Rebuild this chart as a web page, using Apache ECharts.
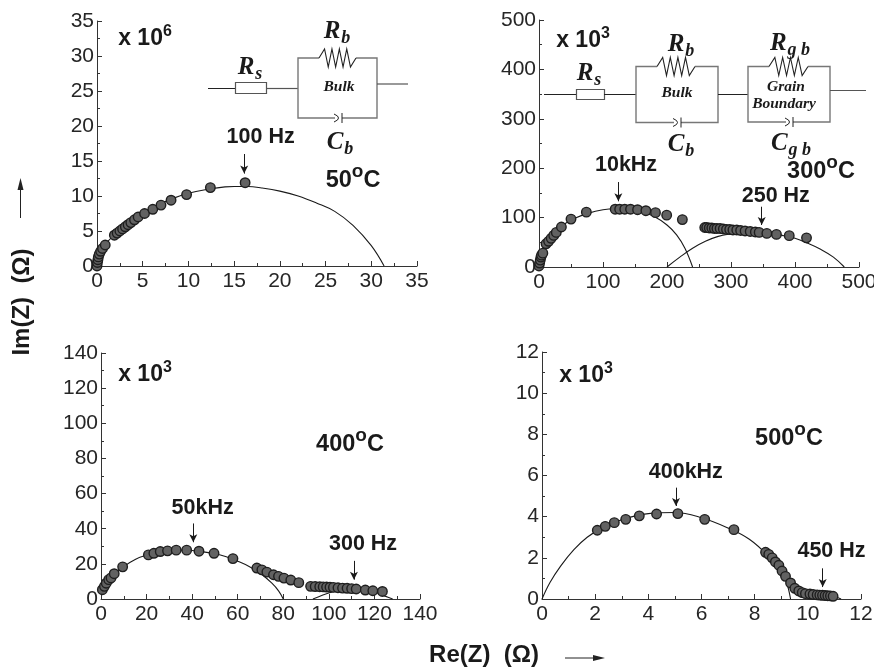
<!DOCTYPE html>
<html><head><meta charset="utf-8">
<style>html,body{margin:0;padding:0;background:#fff}#c{width:874px;height:672px}</style>
<script src="https://cdn.jsdelivr.net/npm/echarts@6/dist/echarts.min.js"></script>
</head><body><div id="c"></div>
<script>
// ---- data: [Re(Z), Im(Z)] ----
const points50 = [[0,0],[0.05,.5],[0.1,.9],[0.15,1.3],[0.25,1.7],[0.4,2.1],[0.6,2.5],[0.9,3],[1.9,4.4],[2.2,4.7],[2.5,5],[2.8,5.3],[3.1,5.6],[3.4,5.9],[3.7,6.2],[4.1,6.6],[4.5,7],[5.2,7.5],[6.1,8.1],[7,8.7],[8.1,9.4],[9.8,10.2],[12.4,11.2],[16.2,11.9]];
const fit50 = [[0,0],[0.3,1.5],[1,3.2],[2,4.6],[3,5.8],[4,6.8],[5,7.6],[6,8.3],[7,8.9],[8,9.5],[10,10.4],[12.3,11],[14,11.3],[15,11.35],[16.5,11.35],[18,11.15],[20,10.7],[22,10],[24,9],[26,7.8],[28,5.8],[30,2.9],[31.4,0]];
const points300a = [[0,2],[1,8],[2,14],[3,20],[4,24],[6,28],[11,47],[15,52],[19,58],[23,64],[27,70],[35,81],[50,97],[74,111],[119,117],[126,117],[134,117],[143,117],[154,116],[167,114],[182,110],[199.5,105],[224,96]];
const points300b = [[259,80],[262,80],[266,79],[270,79],[274,78],[278,78],[283,78],[288,77],[293,76],[298,76],[303,75],[309,75],[315,74],[322,73],[330,72],[338,71],[344,70],[356,68],[371,66],[391,63.5],[418,59]];
const fit300a = [[0,0],[5,28],[12,48],[25,70],[40,87],[55,98],[75,108],[100,116],[120,118],[140,117],[160,112],[180,102],[200,85],[215,65],[228,38],[240,0]];
const fit300b = [[200,0],[220,20],[240,38],[260,52],[280,62],[300,67],[320,70],[340,70],[360,68],[380,64],[400,58],[420,48],[440,36],[460,20],[477,0]];
const points400a = [[0.6,5.3],[1.5,7.2],[2.3,9],[3.4,11],[4.4,12],[5.8,14.4],[9.5,18.3],[20.8,25.1],[23.2,26],[26,27],[29.2,27.4],[33,27.8],[37.6,27.8],[43,27.2],[49.6,26],[57.9,23],[68.4,17.6],[70.6,16.6],[72.8,15.3],[75.7,13.8],[77.9,12.9],[80.3,11.9],[83.3,10.8],[86.8,9.3]];
const points400b = [[92,7.2],[94,7.1],[96,7],[97.5,6.9],[99,6.8],[100.5,6.7],[102,6.6],[104,6.4],[106,6.2],[108,6.1],[110,5.9],[112,5.7],[116,5.1],[119.3,4.7],[123.5,4.3]];
const fit400a = [[0.5,4],[1,5],[3,9.5],[6,14],[10,18.5],[15,22.5],[20,25],[25,26.5],[30,27.4],[35,27.8],[40,27.6],[45,26.8],[50,25.8],[55,24],[60,21.5],[65,18.5],[70,14.5],[75,9],[78,4.5],[80,0]];
const fit400b = [[93,0],[101,3.8],[105,5],[110,5.5],[115,5.2],[120,4],[125,1.5],[128,0]];
const points500 = [[2.08,3.34],[2.38,3.53],[2.72,3.71],[3.15,3.87],[3.66,4.04],[4.31,4.13],[5.11,4.15],[6.12,3.87],[7.22,3.37],[8.41,2.27],[8.53,2.17],[8.66,2],[8.78,1.8],[8.91,1.64],[9.03,1.36],[9.16,1.1],[9.35,.78],[9.51,.52],[9.66,.39],[9.79,.31],[9.91,.26],[10.08,.24],[10.2,.22],[10.35,.2],[10.45,.19],[10.55,.18],[10.65,.17],[10.75,.16],[10.85,.15],[10.95,.13]];
const fit500a = [[0,0],[0.3,.8],[0.7,1.6],[1.2,2.4],[1.7,3],[2.2,3.4],[3,3.85],[4,4.15],[5,4.2],[6,3.95],[7,3.45],[7.8,2.9],[8.5,2.1],[9,1.3],[9.2,.8],[9.35,0]];
const fit500b = [[9.4,.6],[10,.25],[10.5,.2],[11,.12],[11.25,0]];

const ticks = {p50:[35,5], p300:[500,100], p400:[140,20], p500:[12,2]};
// frequency notes: [text, label x, label y, arrow x, arrow top y, arrow tip y]
const notes50 = [['100 Hz',17.9,18.4,16.1,16,13.2]];
const notes300 = [['10kHz',136,206,124,172,133],['250 Hz',370,144,348,122,85]];
const notes400 = [['50kHz',44.6,52,40.5,43,32.3],['300 Hz',115,31.4,111,21.7,11]];
const notes500 = [['400kHz',5.41,6.17,5.04,5.41,4.52],['450 Hz',10.89,2.33,10.56,1.49,.58]];

// ---- styling and layout ----
const INK='#262626', SANS='"Liberation Sans",Arial,sans-serif', SERIF='"Liberation Serif",serif';
const panels=[
 {box:[97,21,320,245],  t:ticks.p50,  pts:[points50],  fit:[fit50],  notes:notes50},
 {box:[539,20,320,247], t:ticks.p300, pts:[points300a,points300b], fit:[fit300a,fit300b], notes:notes300},
 {box:[101,353,319,246],t:ticks.p400, pts:[points400a,points400b], fit:[fit400a,fit400b], notes:notes400},
 {box:[542,352,319,247],t:ticks.p500, pts:[points500], fit:[fit500a,fit500b], notes:notes500}
];
const grid=[],xAxis=[],yAxis=[],series=[];
panels.forEach((p,i)=>{
  grid.push({left:p.box[0],top:p.box[1],width:p.box[2],height:p.box[3],outerBoundsMode:'none',containLabel:false});
  const ax=(g,dir)=>({type:'value',gridIndex:g,min:0,max:p.t[0],interval:p.t[1],splitLine:{show:false},
    axisLine:{show:true,onZero:false,lineStyle:{color:'#333',width:1}},
    axisTick:{show:true,inside:true,length:5,lineStyle:{color:'#333'}},
    minorTick:{show:true,splitNumber:2,length:3,lineStyle:{color:'#333'}},
    axisLabel:{color:INK,fontFamily:SANS,fontSize:21,margin:dir==='x'?5:3,showMinLabel:true,showMaxLabel:true,hideOverlap:false}});
  xAxis.push(ax(i,'x')); yAxis.push(ax(i,'y'));
  p.fit.forEach(d=>series.push({type:'line',xAxisIndex:i,yAxisIndex:i,data:d,smooth:0.4,showSymbol:false,symbol:'none',clip:false,z:2,
    lineStyle:{color:'#1a1a1a',width:1.1}}));
  p.pts.forEach(d=>series.push({type:'scatter',xAxisIndex:i,yAxisIndex:i,data:d,symbol:'circle',symbolSize:9.5,clip:false,z:3,
    itemStyle:{color:'#626262',borderColor:'#1e1e1e',borderWidth:1.4,opacity:1}}));
  series.push({type:'scatter',xAxisIndex:i,yAxisIndex:i,data:[],silent:true,z:4,
    markPoint:{symbol:'circle',symbolSize:0,silent:true,animation:false,
      data:p.notes.map(n=>({coord:[n[1],n[2]],label:{show:true,position:'inside',formatter:n[0],color:'#1a1a1a',fontFamily:SANS,fontWeight:'bold',fontSize:21.5}}))},
    markLine:{silent:true,animation:false,symbol:['none','arrow'],symbolSize:[6,8],label:{show:false},
      lineStyle:{color:'#1a1a1a',width:1,type:'solid'},
      data:p.notes.map(n=>[{coord:[n[3],n[4]]},{coord:[n[3],n[5]]}])}});
});

// ---- annotations and circuit sketches ----
const g=[];
const line=(pts,color,w)=>g.push({type:'polyline',silent:true,shape:{points:pts},style:{stroke:color||'#222',lineWidth:w||1,fill:null}});
const txt=(x,y,rich,ext)=>g.push({type:'text',silent:true,x,y,style:Object.assign({text:rich,textAlign:'center',textVerticalAlign:'middle',fill:'#1a1a1a',font:'bold 21px '+SANS},ext||{})});
const supStyle=(size,raise)=>({fontFamily:SANS,fontWeight:'bold',fontSize:size,padding:[0,0,raise,0],fill:'#1a1a1a'});
const big=(size)=>({fontFamily:SANS,fontWeight:'bold',fontSize:size,fill:'#1a1a1a'});
const powRich={rich:{b:big(23),s:supStyle(16,15)}};
const tempRich={rich:{b:big(23.5),s:supStyle(19,19)}};
txt(145,39,'{b|x 10}{s|6}',powRich); txt(583,41,'{b|x 10}{s|3}',powRich);
txt(145,375,'{b|x 10}{s|3}',powRich); txt(586,376,'{b|x 10}{s|3}',powRich);
txt(353,181,'{b|50}{s|o}{b|C}',tempRich); txt(821,172,'{b|300}{s|o}{b|C}',tempRich);
txt(350,445,'{b|400}{s|o}{b|C}',tempRich); txt(789,439,'{b|500}{s|o}{b|C}',tempRich);
const symR=(x,y,main,sub)=>txt(x,y,'{m|'+main+'}{u|'+sub+'}',{rich:{
  m:{fontFamily:SERIF,fontStyle:'italic',fontWeight:'bold',fontSize:25,fill:'#1a1a1a'},
  u:{fontFamily:SERIF,fontStyle:'italic',fontWeight:'bold',fontSize:18,padding:[12,0,0,1],fill:'#1a1a1a'}}});
const cap=(x,y)=>{
  line([[x-5,y-4],[x-1.5,y-2],[x-0.5,y],[x-1.5,y+2],[x-5,y+4]],'#222');
  line([[x+3,y-5],[x+3,y+5]],'#222');
};
const zig=(x0,x1,y)=>{
  const n=4,st=(x1-x0)/(n*2+2),pts=[[x0,y]];
  for(let k=0;k<n*2;k++) pts.push([x0+st*(k+1.5),y+(k%2?9:-9)]);
  pts.push([x1,y]); line(pts,'#222',1.1);
};
const rect=(x,y,w,h,c,lw)=>g.push({type:'rect',silent:true,shape:{x,y,width:w,height:h},style:{stroke:c,lineWidth:lw||1,fill:'#fff'}});
const rc=(L,R,T,B,zx0,zx1,cx)=>{
  line([[zx0,T],[L,T],[L,B],[cx-4,B]],'#777',1.4);
  line([[cx+3,B],[R,B],[R,T],[zx1,T]],'#777',1.4);
  zig(zx0,zx1,T); cap(cx,B);
};
const ital=(x,y,s)=>txt(x,y,s,{font:'italic bold 15.5px '+SERIF});
// 50 C circuit
line([[208,88.5],[235,88.5]],'#222'); rect(235.5,82.5,31,11,'#555',1.2); line([[266,88.5],[298,88.5]],'#555',1.2);
rc(298,377,58,118,319,356,339); line([[377,84],[408,84]],'#555',1.2);
symR(337,32,'R','b'); symR(250,68,'R','s'); symR(340,143,'C','b'); ital(339,87,'Bulk');
// 300 C circuit
line([[544,94.5],[576,94.5]],'#222'); rect(576.5,89.5,28,10,'#555',1.2); line([[604,94.5],[636,94.5]],'#222');
rc(636,718,66.5,122.5,657,695,678); line([[718,94.5],[748,94.5]],'#222');
rc(748,830,66.5,122,769,808,790); line([[830,90.5],[866,90.5]],'#555',1.2);
symR(681,45,'R','b'); symR(790,44,'R','g b'); symR(589,74,'R','s'); symR(681,145,'C','b'); symR(791,144,'C','g b');
ital(677,93,'Bulk'); ital(786,87,'Grain'); ital(784,104,'Boundary');
// axis captions
const axisFont='bold 24px '+SANS;
g.push({type:'text',silent:true,x:22,y:302,rotation:Math.PI/2,style:{text:'Im(Z)  (Ω)',textAlign:'center',textVerticalAlign:'middle',fill:'#1a1a1a',font:axisFont}});
txt(484,655,'Re(Z)  (Ω)',{font:axisFont});
line([[20.5,218],[20.5,184]],'#222'); g.push({type:'polygon',silent:true,shape:{points:[[20.5,178],[17.5,190],[23.5,190]]},style:{fill:'#222'}});
line([[565,658],[597,658]],'#222'); g.push({type:'polygon',silent:true,shape:{points:[[605,658],[593,655],[593,661]]},style:{fill:'#222'}});

const chart=echarts.init(document.getElementById('c'),null,{renderer:'canvas'});
chart.setOption({animation:false,backgroundColor:'#fff',textStyle:{fontFamily:SANS},grid,xAxis,yAxis,series,graphic:{elements:g}});
</script></body></html>
